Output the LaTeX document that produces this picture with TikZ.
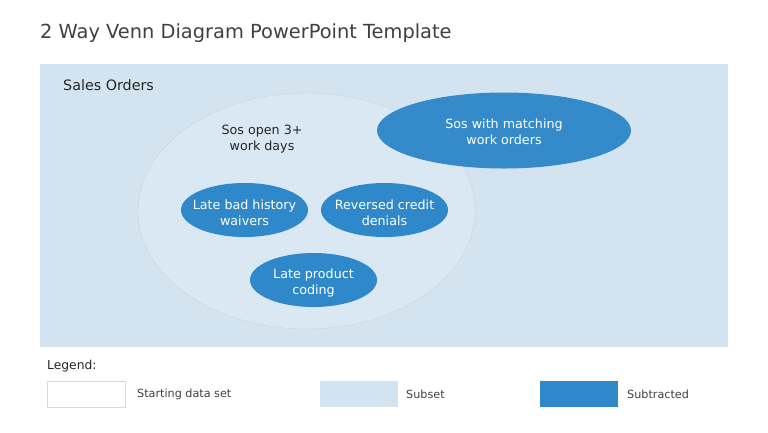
\documentclass[tikz,border=0pt]{standalone}
\usepackage{fontspec}
\setmainfont{DejaVu Sans}
\usetikzlibrary{shapes.geometric}
\definecolor{bgblue}{HTML}{D3E4F0}
\definecolor{circfill}{HTML}{D9E8F2}
\definecolor{circline}{HTML}{CDD3D8}
\definecolor{dblue}{HTML}{2F88C9}
\definecolor{txt}{HTML}{404040}
\begin{document}
\begin{tikzpicture}[x=1pt,y=-1pt,
  sub/.style={ellipse,fill=dblue,inner sep=0pt},
  subtext/.style={text=white,align=center,inner sep=0pt,font=\fontsize{12.7}{16}\selectfont},
  lab/.style={text=txt,inner sep=0pt,font=\fontsize{11.2}{13}\selectfont},
  legbox/.style={minimum width=78pt,minimum height=26pt,inner sep=0pt}]
\useasboundingbox (0,0) rectangle (768,432);
\fill[white] (0,0) rectangle (768,432);
\node[anchor=west,text=txt,inner sep=0pt,font=\fontsize{19.4}{22}\selectfont] (title) at (40,33) {2 Way Venn Diagram PowerPoint Template};
\node[fill=bgblue,minimum width=688pt,minimum height=283pt,inner sep=0pt,anchor=north west] (bg) at (40,64) {};
\node[anchor=west,text=black!85,inner sep=0pt,font=\fontsize{14.3}{16}\selectfont] (sales) at (63,85) {Sales Orders};
\node[ellipse,draw=circline,fill=circfill,minimum width=337pt,minimum height=236pt,inner sep=0pt] (big) at (306.5,211) {};
\node[align=center,text=black!85,inner sep=0pt,font=\fontsize{12.7}{16}\selectfont] (open) at (262,139) {Sos open 3+\\work days};
\node[sub,fill opacity=0.96,minimum width=254pt,minimum height=76pt] (match) at (504,130.5) {};
\node[subtext] (matcht) at ([yshift=-1.5pt]match.center) {Sos with matching\\work orders};
\node[sub,minimum width=127pt,minimum height=54pt] (bad) at (244.5,210) {};
\node[subtext] (badt) at ([yshift=-2.5pt]bad.center) {Late bad history\\waivers};
\node[sub,minimum width=127pt,minimum height=54pt] (rev) at (384.5,210) {};
\node[subtext] (revt) at ([yshift=-2.5pt]rev.center) {Reversed credit\\denials};
\node[sub,minimum width=127pt,minimum height=54pt] (prod) at (313.5,280) {};
\node[subtext] (prodt) at ([yshift=-2.5pt]prod.center) {Late product\\coding};
\node[anchor=west,text=black!85,inner sep=0pt,font=\fontsize{12.3}{14}\selectfont] (legend) at (47,366) {Legend:};
\node[legbox,draw=black!15,fill=white] (l1) at (86,394) {};
\node[lab,anchor=west] (t1) at (137,394) {Starting data set};
\node[legbox,fill=bgblue] (l2) at (358.5,394) {};
\node[lab,anchor=west] (t2) at (406,394) {Subset};
\node[legbox,fill=dblue] (l3) at (578.5,394) {};
\node[lab,anchor=west] (t3) at (627,394) {Subtracted};
\end{tikzpicture}
\end{document}
